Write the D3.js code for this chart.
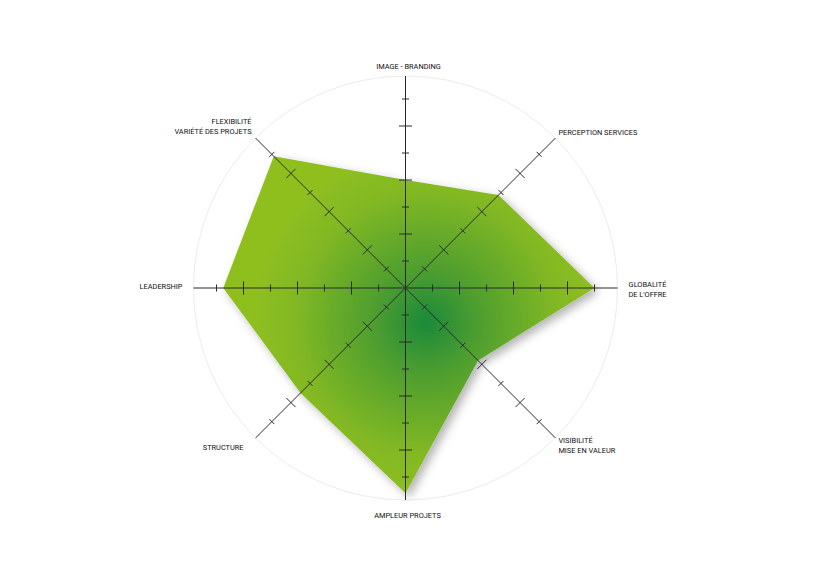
<!DOCTYPE html>
<html>
<head>
<meta charset="utf-8">
<script src="https://cdn.jsdelivr.net/npm/d3@7"></script>
<style>
  body { margin: 0; background: #fff; }
  svg { display: block; }
  .lbl { font-family: Roboto, "Liberation Sans", sans-serif; font-size: 7.4px; fill: #111; }
</style>
</head>
<body>
<div id="chart"></div>
<script>
// axes, clockwise from the top
const axes = [
  ["IMAGE - BRANDING"],
  ["PERCEPTION SERVICES"],
  ["GLOBALITÉ", "DE L'OFFRE"],
  ["VISIBILITÉ", "MISE EN VALEUR"],
  ["AMPLEUR PROJETS"],
  ["STRUCTURE"],
  ["LEADERSHIP"],
  ["FLEXIBILITÉ", "VARIÉTÉ DES PROJETS"]
];
const scores = [4, 4.87, 7, 3.8, 7.6, 5.5, 6.75, 6.9];
const tickValues = [1, 2, 3, 4, 5, 6, 7];

const W = 820, H = 566;
const cx = 405.5, cy = 288;
const axisLen = 212;

// label placement relative to axis end
const labelPos = [
  {anchor: 'middle', dx: 3, dy: -7},
  {anchor: 'start', dx: 3, dy: -3},
  {anchor: 'middle', dx: 30, dy: -1},
  {anchor: 'start', dx: 3, dy: 5},
  {anchor: 'middle', dx: 2, dy: 18},
  {anchor: 'end', dx: -12, dy: 12},
  {anchor: 'end', dx: -11, dy: 1},
  {anchor: 'end', dx: -4, dy: -14}
];

const r = d3.scaleLinear().domain([0, 8]).range([0, 216]);
const angle = d3.scaleLinear().domain([0, axes.length]).range([0, 2 * Math.PI]);
const pt = (i, rad) => [cx + rad * Math.sin(angle(i)), cy - rad * Math.cos(angle(i))];

const svg = d3.select('#chart').append('svg')
  .attr('width', W)
  .attr('height', H);

const defs = svg.append('defs');
const grad = defs.append('radialGradient')
  .attr('id', 'fillGrad')
  .attr('gradientUnits', 'userSpaceOnUse')
  .attr('cx', 426).attr('cy', 322).attr('r', 175);
grad.append('stop').attr('offset', 0).attr('stop-color', '#1a8a3b');
grad.append('stop').attr('offset', 0.3).attr('stop-color', '#4e9e2f');
grad.append('stop').attr('offset', 0.75).attr('stop-color', '#82b824');
grad.append('stop').attr('offset', 1).attr('stop-color', '#8fbf1f');

const shadow = defs.append('filter').attr('id', 'shadow')
  .attr('x', '-20%').attr('y', '-20%').attr('width', '140%').attr('height', '140%');
shadow.append('feDropShadow')
  .attr('dx', 4).attr('dy', 4).attr('stdDeviation', 5)
  .attr('flood-color', '#000').attr('flood-opacity', 0.3);

// outer ring
svg.append('circle')
  .attr('cx', cx).attr('cy', cy).attr('r', axisLen)
  .attr('fill', 'none')
  .attr('stroke', '#ececec')
  .attr('stroke-width', 1);

// the score polygon
const line = d3.line().curve(d3.curveLinearClosed);
svg.append('path')
  .attr('d', line(scores.map((v, i) => pt(i, r(v)))))
  .attr('fill', 'url(#fillGrad)')
  .attr('filter', 'url(#shadow)');

// axis lines
const axisG = svg.append('g');
axes.forEach((a, i) => {
  const [x2, y2] = pt(i, axisLen);
  axisG.append('line')
    .attr('x1', cx).attr('y1', cy).attr('x2', x2).attr('y2', y2)
    .attr('stroke', '#2b2b2b').attr('stroke-width', 1);

  const ang = angle(i);
  const px = Math.cos(ang), py = Math.sin(ang); // perpendicular
  tickValues.forEach(t => {
    const [tx, ty] = pt(i, r(t));
    const half = t % 2 === 0 ? 6.5 : 3.5;
    axisG.append('line')
      .attr('x1', tx - px * half).attr('y1', ty - py * half)
      .attr('x2', tx + px * half).attr('y2', ty + py * half)
      .attr('stroke', '#2b2b2b').attr('stroke-width', 1);
  });
});

// labels
axes.forEach((lines, i) => {
  const [x, y] = pt(i, axisLen);
  const lp = labelPos[i];
  const txt = svg.append('text')
    .attr('class', 'lbl')
    .attr('text-anchor', lp.anchor)
    .attr('x', x + lp.dx)
    .attr('y', y + lp.dy);
  lines.forEach((s, k) => {
    txt.append('tspan')
      .attr('x', x + lp.dx)
      .attr('dy', k === 0 ? 0 : 10)
      .text(s);
  });
});
</script>
</body>
</html>
